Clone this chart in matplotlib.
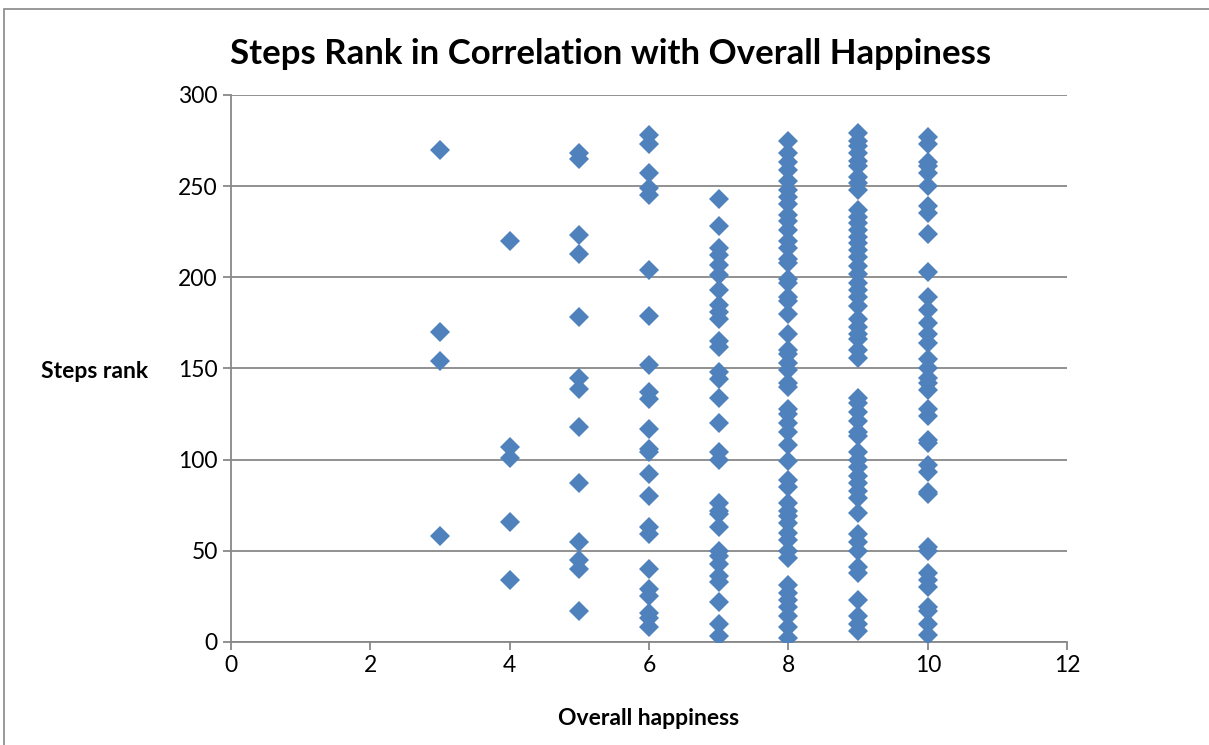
import numpy as np
import matplotlib.pyplot as plt
from matplotlib.patches import Rectangle

# happiness score -> list of step ranks
ranks_3 = [270, 170, 154, 58]
ranks_4 = [220, 107, 101, 66, 34]
ranks_5 = [268, 265, 223, 213, 178, 145, 139, 118, 87, 55, 45, 40, 17]
ranks_6 = [278, 273, 257, 249, 245, 204, 179, 152, 137, 133, 117, 106, 104,
           92, 80, 63, 59, 40, 29, 25, 16, 13, 8]
ranks_7 = [243, 228, 216, 212, 207, 201, 193, 185, 181, 177, 165, 162, 148,
           144, 134, 120, 104, 100, 76, 72, 70, 63, 50, 47, 43, 36, 33, 22,
           10, 3]
ranks_8 = [275, 268, 263, 259, 253, 248, 244, 240, 234, 231, 226, 220, 216,
           210, 208, 199, 197, 189, 187, 180, 169, 160, 158, 153, 149, 142,
           140, 128, 125, 120, 115, 108, 99, 89, 85, 76, 72, 69, 65, 60, 56,
           50, 46, 31, 27, 23, 19, 14, 8, 2]
ranks_9 = [279, 275, 272, 268, 264, 261, 255, 252, 248, 237, 233, 230, 226,
           222, 219, 215, 211, 206, 202, 197, 193, 189, 184, 177, 173, 169,
           166, 160, 156, 134, 131, 126, 121, 115, 113, 104, 100, 96, 91, 87,
           83, 79, 71, 59, 55, 50, 41, 38, 23, 14, 10, 6]
ranks_10 = [277, 273, 263, 261, 257, 250, 239, 235, 224, 203, 189, 182, 175,
            169, 164, 155, 150, 145, 142, 138, 128, 124, 111, 109, 97, 93,
            82, 81, 52, 50, 38, 34, 30, 19, 17, 10, 4]

happiness = [3, 4, 5, 6, 7, 8, 9, 10]
all_ranks = [ranks_3, ranks_4, ranks_5, ranks_6, ranks_7, ranks_8, ranks_9, ranks_10]

x = []
y = []
for h, ranks in zip(happiness, all_ranks):
    x += [h] * len(ranks)
    y += ranks

plt.rcParams['font.family'] = ['Lato', 'DejaVu Sans']

fig = plt.figure(figsize=(12.09, 7.45), dpi=100)
ax = fig.add_axes([0.191, 0.1383, 0.6917, 0.7342])

# outer chart border
fig.patches.append(Rectangle((0.0035, -0.01), 1.1, 0.998, transform=fig.transFigure,
                             fill=False, edgecolor='#888888', linewidth=1.2))

ax.plot(x, y, linestyle='none', marker='D', markersize=10, color='#4F81BD',
        markeredgewidth=0, zorder=3)

ax.set_xlim(0, 12)
ax.set_ylim(0, 300)
ax.set_xticks(range(0, 13, 2))
ax.set_yticks(range(0, 301, 50))
ax.yaxis.grid(True, color='#888888', linewidth=1.3)
ax.set_axisbelow(True)
for s in ['top', 'right']:
    ax.spines[s].set_visible(False)
for s in ['left', 'bottom']:
    ax.spines[s].set_color('#888888')
    ax.spines[s].set_linewidth(1.3)
ax.tick_params(axis='both', labelsize=16.5, color='#888888', length=6, width=1.3)

fig.text(0.505, 0.927, 'Steps Rank in Correlation with Overall Happiness',
         fontsize=25, fontweight='bold', ha='center', va='center')
ax.set_xlabel('Overall happiness', fontsize=16.5, fontweight='bold')
ax.xaxis.set_label_coords(0.5, -0.12)
ax.set_ylabel('Steps rank', fontsize=16.5, fontweight='bold', rotation=0,
              ha='center', va='center')
ax.yaxis.set_label_coords(-0.163, 0.495)

fig.savefig('out.png', dpi=100)
